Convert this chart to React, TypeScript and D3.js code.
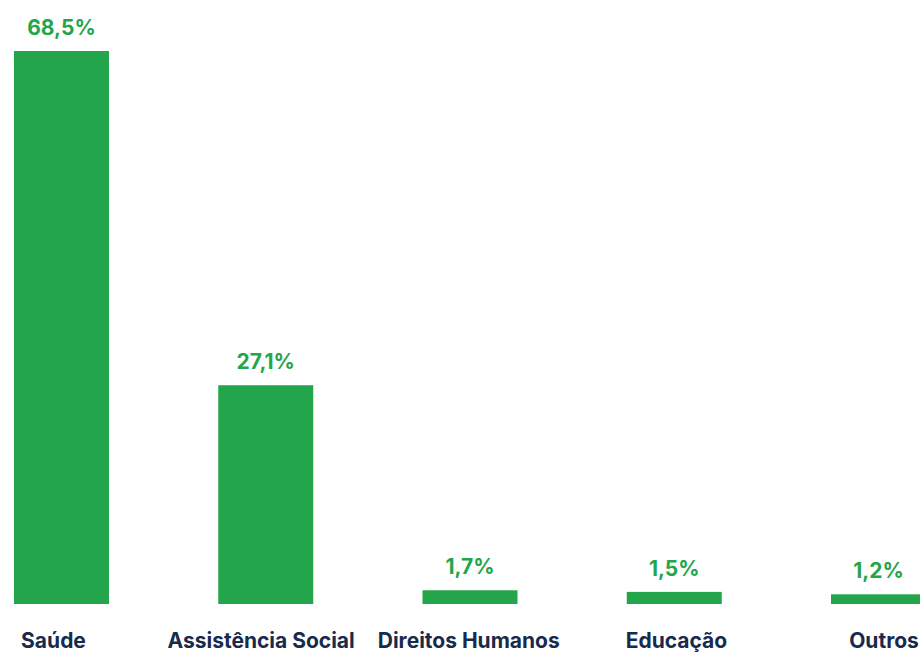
import React from "react";
import * as d3 from "d3";

const categories: string[] = ["Saúde", "Assistência Social", "Direitos Humanos", "Educação", "Outros"];
const values: number[] = [68.5, 27.1, 1.7, 1.5, 1.2];
const valueLabels: string[] = ["68,5%", "27,1%", "1,7%", "1,5%", "1,2%"];

const W = 920;
const H = 652;
const GREEN = "#23a64b";
const NAVY = "#172b4d";
const FONT = "Inter, 'DejaVu Sans', sans-serif";

export default function App() {
  const x = d3
    .scaleBand<string>()
    .domain(categories)
    .range([14, 926])
    .paddingInner(0.5349)
    .paddingOuter(0);
  const xLabel = d3.scalePoint<string>().domain(categories).range([53.5, 884]);
  const y = d3.scaleLinear().domain([0, 68.5]).range([604, 51]);

  return (
    <svg
      width={W}
      height={H}
      style={{ position: "absolute", left: 0, top: 0, background: "#fff" }}
    >
      {categories.map((c, i) => {
        const bx = x(c) as number;
        const bw = x.bandwidth();
        const cx = bx + bw / 2;
        return (
          <g key={c}>
            <rect x={bx} y={y(values[i])} width={bw} height={y(0) - y(values[i])} fill={GREEN} />
            <text
              x={cx}
              y={y(values[i]) - 16}
              textAnchor="middle"
              fill={GREEN}
              fontFamily={FONT}
              fontWeight={700}
              fontSize={21}
            >
              {valueLabels[i]}
            </text>
            <text
              x={xLabel(c) as number}
              y={648}
              textAnchor="middle"
              fill={NAVY}
              fontFamily={FONT}
              fontWeight={700}
              fontSize={21}
            >
              {c}
            </text>
          </g>
        );
      })}
    </svg>
  );
}
